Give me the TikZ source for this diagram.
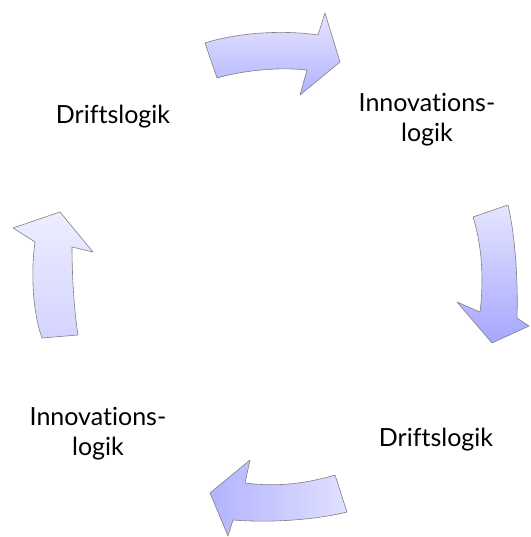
\documentclass[tikz,border=0pt]{standalone}
\usepackage{fontspec}
\setmainfont[Ligatures={NoCommon}]{Lato}
\begin{document}
\begin{tikzpicture}[x=1pt,y=-1pt,
  cyclearrow/.style={draw=black!50,line width=0.6pt,line join=round},
  label/.style={font=\fontsize{25}{30}\selectfont,align=center,text=black}]
\useasboundingbox (0,0) rectangle (530,537);
% top arrow, pointing right
\path[cyclearrow,top color=blue!10,bottom color=blue!30]
  (205,43) .. controls (240,32) and (285,30) .. (318,35) -- (325,13) -- (340,62)
  -- (300,95) -- (307,70) .. controls (280,67) and (245,70) .. (217,78) -- cycle;
% right arrow, pointing down
\path[cyclearrow,top color=blue!10,bottom color=blue!35]
  (473,217) -- (508,205) .. controls (516,240) and (518,285) .. (517,318)
  -- (529,326) -- (492,343) -- (457,302) -- (480,312)
  .. controls (484,280) and (482,245) .. (473,217) -- cycle;
% bottom arrow, pointing left
\path[cyclearrow,left color=blue!30,right color=blue!12]
  (335,475) -- (347,512) .. controls (315,520) and (270,523) .. (233,520)
  -- (228,536) -- (210,493) -- (250,460) -- (245,483)
  .. controls (275,487) and (305,484) .. (335,475) -- cycle;
% left arrow, pointing up
\path[cyclearrow,top color=blue!7,bottom color=blue!17]
  (42,338) .. controls (32,310) and (31,270) .. (35,242) -- (13,228) -- (60,212)
  -- (93,252) -- (72,247) .. controls (72,275) and (74,310) .. (78,335) -- cycle;
% labels
\node[label] (drift1) at (113,117) {Driftslogik};
\node[label] (innov1) at (427,120) {Innovations-\\logik};
\node[label] (drift2) at (436,440) {Driftslogik};
\node[label] (innov2) at (98,434) {Innovations-\\logik};
\end{tikzpicture}
\end{document}
